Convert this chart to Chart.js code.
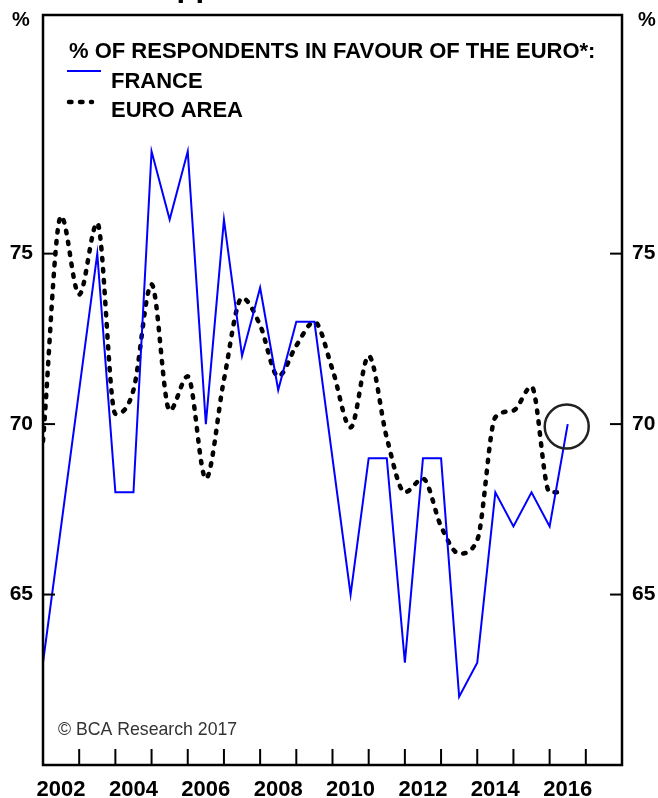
<!DOCTYPE html>
<html>
<head>
<meta charset="utf-8">
<script src="https://cdn.jsdelivr.net/npm/chart.js@4.4.1/dist/chart.umd.min.js"></script>
<style>
  html, body { margin:0; padding:0; background:#fff; }
  #wrap { width:658px; height:798px; }
</style>
</head>
<body>
<div id="wrap"><canvas id="chart" width="658" height="798"></canvas></div>
<script>
// half-yearly survey readings
const franceDates  = [2002.0, 2003.5, 2004.0, 2004.5, 2005.0, 2005.5, 2006.0, 2006.5, 2007.0, 2007.5,
                      2008.0, 2008.5, 2009.0, 2009.5, 2010.5, 2011.0, 2011.5, 2012.0, 2012.5, 2013.0,
                      2013.5, 2014.0, 2014.5, 2015.0, 2015.5, 2016.0, 2016.5];
const franceValues = [63, 75, 68, 68, 78, 76, 78, 70, 76, 72,
                      74, 71, 73, 73, 65, 69, 69, 63, 69, 69,
                      62, 63, 68, 67, 68, 67, 70];

const euroDates  = [2002.0, 2002.5, 2003.0, 2003.5, 2004.0, 2004.5, 2005.0, 2005.5, 2006.0, 2006.5,
                    2007.0, 2007.5, 2008.0, 2008.5, 2009.0, 2009.5, 2010.0, 2010.5, 2011.0, 2011.5,
                    2012.0, 2012.5, 2013.0, 2013.5, 2014.0, 2014.5, 2015.0, 2015.5, 2016.0, 2016.25];
const euroValues = [69.5, 76.1, 73.8, 75.9, 70.3, 71.0, 74.1, 70.4, 71.4, 68.4,
                    71.3, 73.7, 72.9, 71.4, 72.3, 73.0, 71.6, 69.9, 72.0, 69.6,
                    68.0, 68.4, 67.0, 66.2, 66.6, 70.2, 70.4, 71.1, 68.0, 68.0];

const yearLabels = [2002, 2004, 2006, 2008, 2010, 2012, 2014, 2016];
const yearTicks  = [2003, 2004, 2005, 2006, 2007, 2008, 2009, 2010, 2011, 2012, 2013, 2014, 2015, 2016, 2017];
const yTicks     = [65, 70, 75];

const FONT = "'Liberation Sans', Arial, sans-serif";
const BLUE = '#0000ff';

const pts = (xs, ys) => xs.map((d, i) => ({ x: d, y: ys[i] }));

function line(ctx, x1, y1, x2, y2){
  ctx.beginPath(); ctx.moveTo(x1, y1); ctx.lineTo(x2, y2); ctx.stroke();
}

// no extra label padding, so the plot box sits where the original does
function noPad(s){ s.paddingTop = 0; s.paddingBottom = 0; s.paddingLeft = 0; s.paddingRight = 0; }

const overlay = {
  id: 'overlay',
  afterDraw(c){
    const { ctx, chartArea: a, scales } = c;
    const x = scales.x, y = scales.y;
    ctx.save();

    // frame + inward tick marks
    ctx.strokeStyle = '#000'; ctx.lineWidth = 2.5;
    ctx.strokeRect(a.left, a.top, a.right - a.left, a.bottom - a.top);
    ctx.lineWidth = 2;
    yearTicks.forEach(v => { const px = x.getPixelForValue(v); line(ctx, px, a.bottom, px, a.bottom - 16); });
    yTicks.forEach(v => {
      const py = y.getPixelForValue(v);
      line(ctx, a.left, py, a.left + 12, py);
      line(ctx, a.right, py, a.right - 12, py);
    });

    // circle on latest France reading
    const n = franceDates.length - 1;
    ctx.strokeStyle = '#222'; ctx.lineWidth = 2.5;
    ctx.beginPath();
    ctx.arc(x.getPixelForValue(franceDates[n]) - 1, y.getPixelForValue(franceValues[n]) + 2.5, 22, 0, Math.PI * 2);
    ctx.stroke();

    // legend
    ctx.fillStyle = '#000';
    ctx.textBaseline = 'alphabetic';
    ctx.font = `bold 22px ${FONT}`;
    ctx.fillText('% OF RESPONDENTS IN FAVOUR OF THE EURO*:', 69, 58);
    ctx.fillText('FRANCE', 111, 88);
    ctx.fillText('EURO AREA', 111, 117);
    ctx.strokeStyle = BLUE; ctx.lineWidth = 2;
    line(ctx, 67, 71, 101, 71);
    ctx.strokeStyle = '#000'; ctx.lineWidth = 4.5; ctx.lineCap = 'round';
    ctx.setLineDash([2.5, 8.5]);
    line(ctx, 69, 102, 92, 102);
    ctx.setLineDash([]); ctx.lineCap = 'butt';

    // unit markers
    ctx.font = `bold 20px ${FONT}`;
    ctx.fillText('%', 12, 26);
    ctx.fillText('%', 638, 26);

    // copyright
    ctx.fillStyle = '#333';
    ctx.font = `17.7px ${FONT}`;
    ctx.fillText('\u00A9 BCA Research 2017', 58, 735);

    // bottom edge of the cropped heading
    ctx.fillStyle = '#000';
    ctx.font = `bold 31px ${FONT}`;
    ctx.fillText('Support', 137, -4);

    ctx.restore();
  }
};

const yAxis = (pos, w) => ({
  type: 'linear', position: pos, min: 60, max: 82,
  afterBuildTicks: s => { s.ticks = yTicks.map(v => ({ value: v })); },
  afterFit: s => { s.width = w; noPad(s); },
  grid: { display: false, drawTicks: false },
  border: { display: false },
  ticks: { padding: 10, color: '#000', font: { family: FONT, size: 21, weight: 'bold' } }
});

new Chart(document.getElementById('chart'), {
  type: 'line',
  data: {
    datasets: [
      { label: 'FRANCE', data: pts(franceDates, franceValues), borderColor: BLUE, borderWidth: 2,
        pointRadius: 0, tension: 0, yAxisID: 'y' },
      { label: 'EURO AREA', data: pts(euroDates, euroValues), borderColor: '#000', borderWidth: 4.5,
        borderDash: [2.5, 8.5], borderCapStyle: 'round', pointRadius: 0,
        cubicInterpolationMode: 'monotone', yAxisID: 'y' }
    ]
  },
  options: {
    responsive: false, animation: false, devicePixelRatio: 1,
    layout: { padding: { top: 15, left: 0, right: 0, bottom: 0 } },
    plugins: { legend: { display: false }, tooltip: { enabled: false } },
    scales: {
      x: {
        type: 'linear', min: 2002, max: 2018,
        afterBuildTicks: s => { s.ticks = yearLabels.map(v => ({ value: v + 0.5 })); },
        afterFit: s => { s.height = 33; noPad(s); },
        grid: { display: false, drawTicks: false },
        border: { display: false },
        ticks: { padding: 12, color: '#000', maxRotation: 0, autoSkip: false,
                 callback: v => String(Math.floor(v)),
                 font: { family: FONT, size: 22, weight: 'bold' } }
      },
      y: yAxis('left', 43),
      y2: yAxis('right', 36)
    }
  },
  plugins: [overlay]
});
</script>
</body>
</html>
